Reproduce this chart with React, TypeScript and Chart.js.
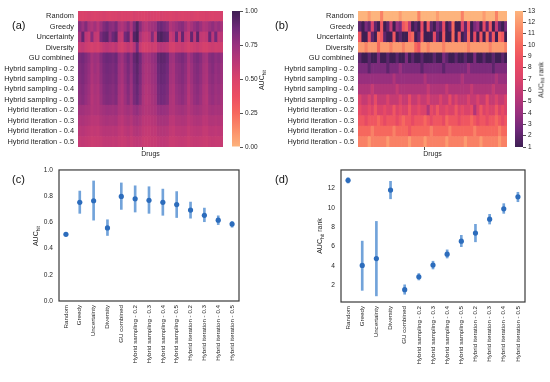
import React, { useEffect, useRef } from 'react';
import { Chart, registerables } from 'chart.js';

Chart.register(...registerables);

const FONT = "'Liberation Sans', Arial, sans-serif";
const TEXT = '#262626';
Chart.defaults.font.family = FONT;

const strategies = [
  'Random', 'Greedy', 'Uncertainty', 'Diversity', 'GU combined',
  'Hybrid sampling - 0.2', 'Hybrid sampling - 0.3', 'Hybrid sampling - 0.4', 'Hybrid sampling - 0.5',
  'Hybrid iteration - 0.2', 'Hybrid iteration - 0.3', 'Hybrid iteration - 0.4', 'Hybrid iteration - 0.5',
];

// tick labels
const aucTicks = [0, 0.2, 0.4, 0.6, 0.8, 1.0];
const rankTicks = [2, 4, 6, 8, 10, 12];
const aucBarTicks = [0, 0.25, 0.5, 0.75, 1.0];
const rankBarTicks = [1, 2, 3, 4, 5, 6, 7, 8, 9, 10, 11, 12, 13];

// panel (c): mean AUC_hit with spread
const aucMean = [0.509, 0.753, 0.765, 0.558, 0.798, 0.78, 0.768, 0.753, 0.736, 0.694, 0.654, 0.617, 0.587];
const aucLow = [0.503, 0.669, 0.617, 0.50, 0.699, 0.679, 0.669, 0.654, 0.637, 0.632, 0.605, 0.583, 0.563];
const aucHigh = [0.515, 0.839, 0.916, 0.62, 0.901, 0.879, 0.872, 0.854, 0.835, 0.755, 0.709, 0.65, 0.607];

// panel (d): mean AUC_hit rank with spread
const rankMean = [12.83, 4.07, 4.77, 11.83, 1.57, 2.9, 4.1, 5.23, 6.57, 7.4, 8.83, 9.9, 11.13];
const rankLow = [12.55, 1.5, 0.93, 10.93, 1.1, 2.57, 3.7, 4.83, 6.0, 6.5, 8.33, 9.43, 10.63];
const rankHigh = [13.1, 6.57, 8.6, 12.73, 2.07, 3.23, 4.5, 5.67, 7.17, 8.3, 9.33, 10.43, 11.6];

// panel (a): AUC_hit per drug (columns) for each strategy (rows)
const aucRandom = [
  .51, .50, .51, .52, .51, .50, .51, .51, .52, .51, .50, .51,
  .51, .52, .50, .51, .51, .50, .52, .51, .51, .50, .51, .52,
  .51, .51, .50, .52, .51, .51, .50, .51, .52, .51, .50, .51,
  .51, .52, .51, .50, .51, .51, .52, .51, .50, .51, .51, .52,
];
const aucGreedy = [
  .80, .74, .82, .70, .66, .72, .64, .74, .82, .86, .80, .78,
  .84, .70, .66, .72, .80, .68, .84, .95, .80, .68, .64, .70,
  .72, .74, .86, .88, .84, .80, .66, .70, .74, .78, .80, .72,
  .64, .70, .76, .80, .74, .66, .68, .74, .78, .72, .76, .70,
];
const aucUncertainty = [
  .70, .90, .62, .58, .80, .60, .58, .84, .90, .92, .78, .88,
  .92, .60, .58, .86, .90, .62, .94, .98, .70, .60, .58, .62,
  .82, .60, .94, .96, .92, .90, .58, .62, .88, .60, .90, .62,
  .58, .90, .62, .92, .60, .58, .60, .88, .62, .86, .60, .62,
];
const aucDiversity = [
  .58, .60, .56, .54, .52, .54, .52, .56, .60, .62, .60, .58,
  .62, .54, .52, .56, .60, .56, .64, .85, .58, .52, .52, .54,
  .56, .54, .62, .64, .62, .60, .53, .52, .56, .56, .58, .55,
  .52, .54, .56, .58, .55, .52, .52, .55, .56, .54, .55, .54,
];
const aucGU = [
  .84, .86, .82, .78, .70, .74, .72, .80, .86, .88, .87, .85,
  .88, .76, .72, .80, .86, .78, .90, .94, .86, .74, .70, .72,
  .76, .78, .90, .92, .91, .88, .74, .72, .80, .82, .84, .80,
  .70, .76, .82, .84, .80, .72, .70, .80, .82, .78, .80, .76,
];
const aucHS2 = [
  .82, .84, .80, .76, .68, .73, .70, .78, .84, .86, .85, .83,
  .86, .74, .70, .78, .84, .77, .88, .92, .84, .72, .68, .70,
  .74, .76, .88, .90, .89, .86, .72, .70, .78, .79, .82, .78,
  .68, .74, .80, .82, .78, .70, .68, .78, .81, .76, .78, .74,
];
const aucHS3 = [
  .81, .83, .79, .75, .67, .71, .69, .77, .83, .85, .84, .82,
  .85, .73, .69, .77, .83, .75, .87, .91, .83, .71, .67, .69,
  .73, .75, .87, .89, .88, .85, .71, .69, .77, .79, .81, .77,
  .67, .73, .79, .81, .77, .69, .67, .77, .79, .75, .77, .73,
];
const aucHS4 = [
  .79, .81, .77, .73, .65, .69, .67, .75, .81, .83, .82, .80,
  .83, .71, .67, .75, .81, .73, .85, .89, .81, .69, .65, .67,
  .71, .73, .85, .87, .86, .83, .69, .67, .75, .77, .79, .75,
  .65, .71, .77, .79, .75, .67, .65, .75, .77, .73, .75, .71,
];
const aucHS5 = [
  .78, .80, .76, .72, .64, .68, .66, .74, .80, .82, .81, .79,
  .82, .70, .66, .74, .80, .72, .84, .88, .80, .68, .64, .66,
  .70, .72, .84, .86, .85, .82, .68, .66, .74, .76, .78, .74,
  .64, .70, .76, .78, .74, .66, .64, .74, .76, .72, .74, .70,
];
const aucHI2 = [
  .72, .72, .70, .69, .65, .67, .66, .70, .72, .74, .73, .72,
  .74, .68, .66, .70, .72, .69, .75, .77, .72, .67, .65, .66,
  .68, .69, .75, .76, .75, .74, .67, .66, .70, .71, .72, .70,
  .65, .68, .71, .72, .70, .66, .65, .70, .71, .69, .70, .68,
];
const aucHI3 = [
  .67, .68, .66, .65, .62, .63, .62, .66, .68, .69, .68, .68,
  .69, .64, .62, .66, .68, .65, .70, .71, .68, .63, .62, .62,
  .64, .65, .70, .70, .70, .69, .63, .62, .66, .66, .67, .66,
  .62, .64, .66, .67, .66, .62, .62, .66, .66, .65, .66, .64,
];
const aucHI4 = [
  .63, .64, .62, .61, .59, .60, .59, .62, .64, .64, .64, .63,
  .64, .61, .59, .62, .64, .61, .65, .66, .64, .60, .59, .59,
  .61, .61, .65, .65, .65, .64, .60, .59, .62, .62, .63, .62,
  .59, .61, .62, .63, .62, .59, .59, .62, .62, .61, .62, .61,
];
const aucHI5 = [
  .59, .60, .59, .58, .56, .57, .57, .58, .60, .60, .60, .59,
  .60, .58, .57, .58, .60, .58, .60, .61, .60, .57, .56, .57,
  .58, .58, .60, .61, .61, .60, .57, .57, .58, .59, .59, .58,
  .56, .58, .59, .59, .58, .57, .56, .58, .59, .58, .58, .58,
];

// panel (b): AUC_hit rank per drug
const rankRandom = [
  13, 13, 13, 12, 13, 13, 13, 11, 13, 13, 13, 13,
  13, 12, 13, 13, 13, 13, 13, 11, 13, 13, 13, 13,
  13, 12, 13, 13, 13, 13, 13, 13, 13, 11, 13, 13,
  13, 13, 13, 13, 12, 13, 13, 13, 11, 13, 13, 13,
];
const rankGreedy = [
  2, 1, 3, 2, 7, 2, 1, 9, 1, 2, 6, 1,
  4, 3, 9, 10, 6, 1, 2, 1, 8, 1, 9, 2,
  1, 3, 2, 8, 1, 2, 10, 1, 1, 7, 2, 9,
  1, 3, 4, 1, 8, 2, 9, 1, 6, 2, 1, 3,
];
const rankUncertainty = [
  9, 1, 1, 8, 2, 1, 10, 9, 2, 1, 1, 9,
  1, 2, 1, 1, 9, 10, 1, 2, 9, 1, 1, 1,
  8, 2, 1, 9, 1, 1, 10, 1, 9, 1, 2, 10,
  1, 8, 1, 9, 1, 10, 2, 9, 1, 10, 9, 1,
];
const rankDiversity = [
  12, 12, 11, 12, 12, 12, 10, 12, 12, 12, 11, 12,
  12, 12, 11, 12, 12, 12, 10, 9, 12, 12, 11, 12,
  12, 12, 12, 11, 12, 12, 12, 12, 12, 12, 12, 11,
  12, 12, 12, 12, 12, 12, 11, 12, 12, 12, 12, 11,
];
const rankGU = [
  2, 1, 1, 2, 1, 1, 3, 1, 1, 2, 1, 1,
  2, 1, 1, 3, 1, 2, 1, 1, 2, 1, 1, 1,
  2, 1, 1, 3, 2, 1, 1, 2, 1, 1, 2, 1,
  1, 3, 1, 1, 2, 1, 1, 2, 1, 1, 2, 1,
];
const rankHS2 = [
  3, 3, 3, 2, 3, 3, 3, 3, 3, 2, 3, 3,
  3, 4, 3, 3, 3, 3, 3, 3, 2, 3, 3, 3,
  3, 3, 3, 2, 3, 3, 3, 3, 3, 3, 3, 4,
  3, 3, 3, 3, 3, 3, 3, 2, 3, 3, 3, 3,
];
const rankHS3 = [
  4, 4, 4, 4, 4, 4, 4, 4, 4, 4, 4, 5,
  4, 4, 4, 4, 4, 4, 4, 4, 4, 5, 4, 4,
  4, 4, 4, 4, 4, 4, 4, 4, 4, 5, 4, 4,
  4, 4, 4, 4, 4, 4, 4, 4, 5, 4, 4, 4,
];
const rankHS4 = [
  5, 5, 5, 5, 6, 5, 5, 5, 5, 5, 5, 5,
  6, 5, 5, 5, 5, 5, 5, 5, 5, 5, 6, 5,
  5, 5, 5, 5, 6, 5, 5, 5, 5, 5, 5, 5,
  6, 5, 5, 5, 5, 5, 5, 6, 5, 5, 5, 5,
];
const rankHS5 = [
  7, 6, 6, 7, 6, 8, 6, 6, 6, 7, 6, 6,
  6, 7, 6, 6, 8, 6, 6, 7, 6, 6, 7, 6,
  6, 6, 7, 6, 6, 8, 6, 7, 6, 6, 6, 7,
  6, 6, 7, 6, 6, 8, 6, 6, 7, 6, 6, 7,
];
const rankHI2 = [
  8, 7, 7, 8, 7, 9, 7, 7, 8, 7, 7, 9,
  7, 8, 7, 7, 9, 7, 7, 8, 7, 7, 5, 8,
  7, 9, 7, 7, 8, 7, 7, 9, 7, 8, 7, 7,
  8, 5, 7, 9, 7, 8, 7, 7, 9, 7, 8, 7,
];
const rankHI3 = [
  9, 9, 8, 9, 9, 9, 10, 9, 8, 9, 9, 9,
  8, 9, 10, 9, 9, 8, 9, 9, 9, 10, 9, 8,
  9, 9, 9, 8, 10, 9, 9, 9, 8, 9, 9, 9,
  10, 9, 8, 9, 9, 8, 9, 9, 10, 9, 8, 9,
];
const rankHI4 = [
  10, 10, 10, 10, 11, 10, 10, 10, 10, 10, 10, 11,
  10, 10, 10, 10, 9, 10, 10, 10, 10, 10, 10, 11,
  10, 10, 10, 10, 10, 11, 10, 10, 10, 10, 10, 10,
  10, 11, 10, 10, 10, 10, 10, 10, 10, 11, 10, 10,
];
const rankHI5 = [
  11, 11, 11, 12, 11, 11, 11, 11, 11, 12, 11, 11,
  11, 11, 11, 11, 12, 11, 11, 11, 11, 12, 11, 11,
  11, 11, 11, 11, 12, 11, 11, 11, 11, 11, 12, 11,
  11, 11, 11, 12, 11, 11, 11, 11, 11, 12, 11, 11,
];

const aucRows = [aucRandom, aucGreedy, aucUncertainty, aucDiversity, aucGU, aucHS2, aucHS3, aucHS4, aucHS5, aucHI2, aucHI3, aucHI4, aucHI5];
const rankRows = [rankRandom, rankGreedy, rankUncertainty, rankDiversity, rankGU, rankHS2, rankHS3, rankHS4, rankHS5, rankHI2, rankHI3, rankHI4, rankHI5];

// colour map: light orange (0) -> dark purple (1)
const cmapStops = ['#fdb47d', '#fb8e6a', '#f6685e', '#ec4d62', '#da436b', '#bb3777', '#99307e', '#6e2879', '#3e1f53'];
const stopRgb = cmapStops.map((h) => [parseInt(h.slice(1, 3), 16), parseInt(h.slice(3, 5), 16), parseInt(h.slice(5, 7), 16)]);
function cmap(t: number): string {
  const c = Math.max(0, Math.min(1, t));
  const pos = c * (stopRgb.length - 1);
  const i = Math.min(stopRgb.length - 2, Math.floor(pos));
  const f = pos - i;
  const a = stopRgb[i];
  const b = stopRgb[i + 1];
  const r = Math.round(a[0] + (b[0] - a[0]) * f);
  const g = Math.round(a[1] + (b[1] - a[1]) * f);
  const bl = Math.round(a[2] + (b[2] - a[2]) * f);
  return `rgb(${r},${g},${bl})`;
}
const normAuc = (v: number) => v;
const normRank = (v: number) => (13 - v) / 12;

const noPlugins = { legend: { display: false }, tooltip: { enabled: false } };

function heatmapConfig(rows: number[][], norm: (v: number) => number, yWidth: number, padRight: number, tickAt: number): any {
  const nDrugs = rows[0].length;
  const datasets = rows[0].map((_, j) => ({
    data: rows.map(() => 1),
    backgroundColor: rows.map((r) => cmap(norm(r[j]))),
    borderWidth: 0,
    barPercentage: 1,
    categoryPercentage: 1,
  }));
  return {
    type: 'bar',
    data: { labels: strategies, datasets },
    options: {
      indexAxis: 'y',
      responsive: false,
      animation: false,
      events: [],
      layout: { padding: { top: 11, right: padRight, bottom: 0, left: 0 } },
      plugins: noPlugins,
      scales: {
        y: {
          stacked: true,
          grid: { display: false, drawTicks: false },
          border: { display: false },
          ticks: { font: { size: 7.4 }, color: TEXT, padding: 4, autoSkip: false },
          afterFit: (s: any) => { s.width = yWidth; },
        },
        x: {
          type: 'linear',
          stacked: true,
          min: 0,
          max: nDrugs,
          grid: { drawOnChartArea: false, drawTicks: true, tickLength: 3, color: TEXT, lineWidth: 0.8 },
          border: { display: false },
          ticks: { callback: () => '', font: { size: 1 }, padding: 0 },
          afterBuildTicks: (s: any) => { s.ticks = [{ value: tickAt }]; },
          title: { display: true, text: 'Drugs', font: { size: 7 }, color: TEXT, padding: 0 },
          afterFit: (s: any) => { s.height = 11; },
        },
      },
    },
  };
}

function colorbarConfig(min: number, max: number, ticks: number[], fmt: (v: number) => string, norm: (v: number) => number, axisWidth: number): any {
  return {
    type: 'bar',
    data: {
      labels: [''],
      datasets: [{
        data: [[min, max]],
        backgroundColor: (ctx: any) => {
          const a = ctx.chart.chartArea;
          if (!a) return 'transparent';
          const g = ctx.chart.ctx.createLinearGradient(0, a.bottom, 0, a.top);
          for (let i = 0; i <= 24; i++) {
            const f = i / 24;
            g.addColorStop(f, cmap(norm(min + f * (max - min))));
          }
          return g;
        },
        borderWidth: 0,
        barPercentage: 1,
        categoryPercentage: 1,
        inflateAmount: 0,
      }],
    },
    options: {
      responsive: false,
      animation: false,
      events: [],
      layout: { padding: { top: 11, bottom: 11, left: 0, right: 0 } },
      plugins: noPlugins,
      scales: {
        x: { display: false },
        y: {
          position: 'right',
          min,
          max,
          afterBuildTicks: (s: any) => { s.ticks = ticks.map((v) => ({ value: v })); },
          ticks: { callback: (v: any) => fmt(Number(v)), font: { size: 6.5 }, color: TEXT, padding: 2 },
          grid: { drawOnChartArea: false, drawTicks: true, tickLength: 3, color: TEXT, lineWidth: 0.8 },
          border: { display: false },
          afterFit: (s: any) => { s.width = axisWidth; },
        },
      },
    },
  };
}

const framePlugin = {
  id: 'frame',
  afterDatasetsDraw(chart: any) {
    const { ctx, chartArea: a } = chart;
    ctx.save();
    ctx.strokeStyle = '#3a3a3a';
    ctx.lineWidth = 1.2;
    ctx.strokeRect(a.left, a.top, a.right - a.left, a.bottom - a.top);
    ctx.restore();
  },
};

function errorConfig(mean: number[], low: number[], high: number[], yMin: number, yMax: number, ticks: number[], fmt: (v: number) => string, yWidth: number, padRight: number, xHeight: number): any {
  return {
    type: 'bar',
    data: {
      labels: strategies,
      datasets: [
        {
          type: 'line',
          data: mean,
          showLine: false,
          pointRadius: 2.6,
          pointBackgroundColor: '#2c6cbc',
          pointBorderWidth: 0,
          order: 0,
        },
        {
          type: 'bar',
          data: low.map((l, i) => [l, high[i]]),
          backgroundColor: '#72a3da',
          barThickness: 2,
          borderWidth: 0,
          order: 1,
        },
      ],
    },
    options: {
      responsive: false,
      animation: false,
      events: [],
      layout: { padding: { top: 6, right: padRight, bottom: 0, left: 0 } },
      plugins: noPlugins,
      scales: {
        x: {
          grid: { display: false, drawTicks: false },
          border: { display: false },
          ticks: { maxRotation: 90, minRotation: 90, autoSkip: false, font: { size: 6.2 }, color: TEXT, padding: 4 },
          afterFit: (s: any) => { s.height = xHeight; },
        },
        y: {
          min: yMin,
          max: yMax,
          afterBuildTicks: (s: any) => { s.ticks = ticks.map((v) => ({ value: v })); },
          grid: { display: false, drawTicks: false },
          border: { display: false },
          ticks: { callback: (v: any) => fmt(Number(v)), font: { size: 6.6 }, color: TEXT, padding: 6 },
          afterFit: (s: any) => { s.width = yWidth; },
        },
      },
    },
    plugins: [framePlugin],
  };
}

function ChartCanvas({ make, left, top, width, height }: { make: () => any; left: number; top: number; width: number; height: number }) {
  const ref = useRef<HTMLCanvasElement>(null);
  useEffect(() => {
    const chart = new Chart(ref.current as HTMLCanvasElement, make());
    return () => chart.destroy();
  }, []);
  return <canvas ref={ref} width={width} height={height} style={{ position: 'absolute', left, top, width, height }} />;
}

function RotLabel({ x, y, children }: { x: number; y: number; children: React.ReactNode }) {
  return (
    <div style={{
      position: 'absolute', left: x, top: y, transform: 'translate(-50%, -50%) rotate(-90deg)',
      fontFamily: FONT, fontSize: 7, color: TEXT, whiteSpace: 'nowrap', lineHeight: '8px',
    }}>{children}</div>
  );
}

function PanelLabel({ x, y, text }: { x: number; y: number; text: string }) {
  return (
    <div style={{ position: 'absolute', left: x, top: y, fontFamily: FONT, fontSize: 11, lineHeight: '11px', color: '#111' }}>{text}</div>
  );
}

const sub = { fontSize: '0.72em', verticalAlign: '-0.25em' } as React.CSSProperties;

export default function App() {
  return (
    <div style={{ position: 'absolute', left: 0, top: 0, width: 550, height: 382, background: '#fff', overflow: 'hidden' }}>
      <ChartCanvas make={() => heatmapConfig(aucRows, normAuc, 78, 9, 21.5)} left={0} top={0} width={232} height={158} />
      <ChartCanvas make={() => colorbarConfig(0, 1, aucBarTicks, (v) => v.toFixed(2), normAuc, 22)} left={232} top={0} width={30} height={158} />
      <ChartCanvas make={() => heatmapConfig(rankRows, normRank, 83, 0, 21.5)} left={275} top={0} width={232} height={158} />
      <ChartCanvas make={() => colorbarConfig(1, 13, rankBarTicks, (v) => String(Math.round(v)), normRank, 16)} left={515} top={0} width={24} height={158} />
      <ChartCanvas make={() => errorConfig(aucMean, aucLow, aucHigh, 0, 1, aucTicks, (v) => v.toFixed(1), 59, 36, 81)} left={0} top={160} width={275} height={222} />
      <ChartCanvas make={() => errorConfig(rankMean, rankLow, rankHigh, 0.3, 13.9, rankTicks, (v) => String(Math.round(v)), 66, 25, 80)} left={275} top={160} width={275} height={222} />

      <RotLabel x={263} y={80}>AUC<span style={sub}>hit</span></RotLabel>
      <RotLabel x={542} y={80}>AUC<span style={sub}>hit</span> rank</RotLabel>
      <RotLabel x={37} y={236}>AUC<span style={sub}>hit</span></RotLabel>
      <RotLabel x={321} y={236}>AUC<span style={sub}>hit</span> rank</RotLabel>

      <PanelLabel x={12} y={20} text="(a)" />
      <PanelLabel x={275} y={20} text="(b)" />
      <PanelLabel x={12} y={174} text="(c)" />
      <PanelLabel x={275} y={174} text="(d)" />
    </div>
  );
}
